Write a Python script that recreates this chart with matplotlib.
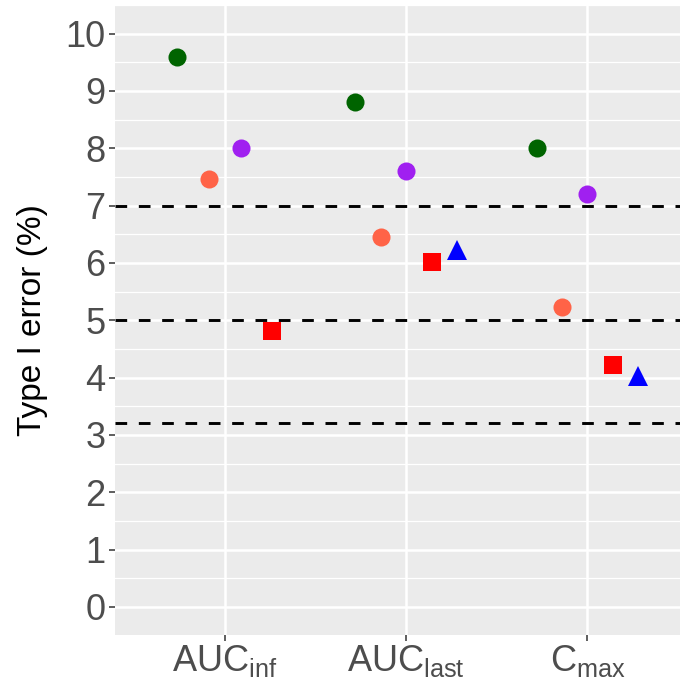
import numpy as np
import matplotlib.pyplot as plt
from matplotlib.ticker import MultipleLocator

plt.rcParams['font.family'] = ['Liberation Sans', 'DejaVu Sans']
plt.rcParams['mathtext.default'] = 'regular'

# data
categories = [r'AUC$_{inf}$', r'AUC$_{last}$', r'C$_{max}$']
series_green = [9.6, 8.8, 8.0]
series_tomato = [7.47, 6.46, 5.24]
series_purple = [8.0, 7.6, 7.2]
series_red = [4.82, 6.02, 4.22]
series_blue = [np.nan, 6.22, 4.02]
ref_lines = [7, 5, 3.2]

series = [series_green, series_tomato, series_purple, series_red, series_blue]
colors = ['#006400', '#FF6347', '#A020F0', '#FF0000', '#0000FF']
markers = ['o', 'o', 'o', 's', '^']
sizes = [13, 13, 13, 13, 15]

fig = plt.figure(figsize=(6.82, 6.87), dpi=100)
ax = fig.add_axes([0.1686, 0.0757, 0.8284, 0.9170])
ax.set_facecolor('#EBEBEB')
for s in ax.spines.values():
    s.set_visible(False)

# dodge like ggplot position_dodge(width=0.7), only among groups present
dodge = 0.7
data = np.array(series)
for j in range(len(categories)):
    present = [i for i in range(len(series)) if not np.isnan(data[i, j])]
    n = len(present)
    for k, i in enumerate(present):
        xpos = j + 1 + (k - (n - 1) / 2) * dodge / n
        ax.plot(xpos, data[i, j], marker=markers[i], color=colors[i],
                markersize=sizes[i], linestyle='none', markeredgewidth=0, zorder=4)

for y in ref_lines:
    ax.axhline(y, color='black', lw=2.1, linestyle=(0, (4, 4)), zorder=3)

ax.set_xlim(1 - 0.606, 3 + 0.51)
ax.set_ylim(-0.49, 10.5)
ax.set_xticks([1, 2, 3])
ax.set_xticklabels(categories, fontsize=27)
ax.yaxis.set_major_locator(MultipleLocator(1))
ax.yaxis.set_minor_locator(MultipleLocator(0.5))
ax.grid(which='major', color='white', lw=1.8, zorder=0)
ax.grid(which='minor', axis='y', color='white', lw=0.9, zorder=0)
ax.set_axisbelow(True)
ax.tick_params(which='major', length=4, width=1.1, color='#333333',
               labelsize=26, labelcolor='#4D4D4D', pad=3)
ax.tick_params(axis='x', pad=2)
ax.tick_params(which='minor', length=0)
ax.set_ylabel('Type I error (%)', fontsize=24, color='black', labelpad=12)

fig.savefig('out.png', dpi=100)
